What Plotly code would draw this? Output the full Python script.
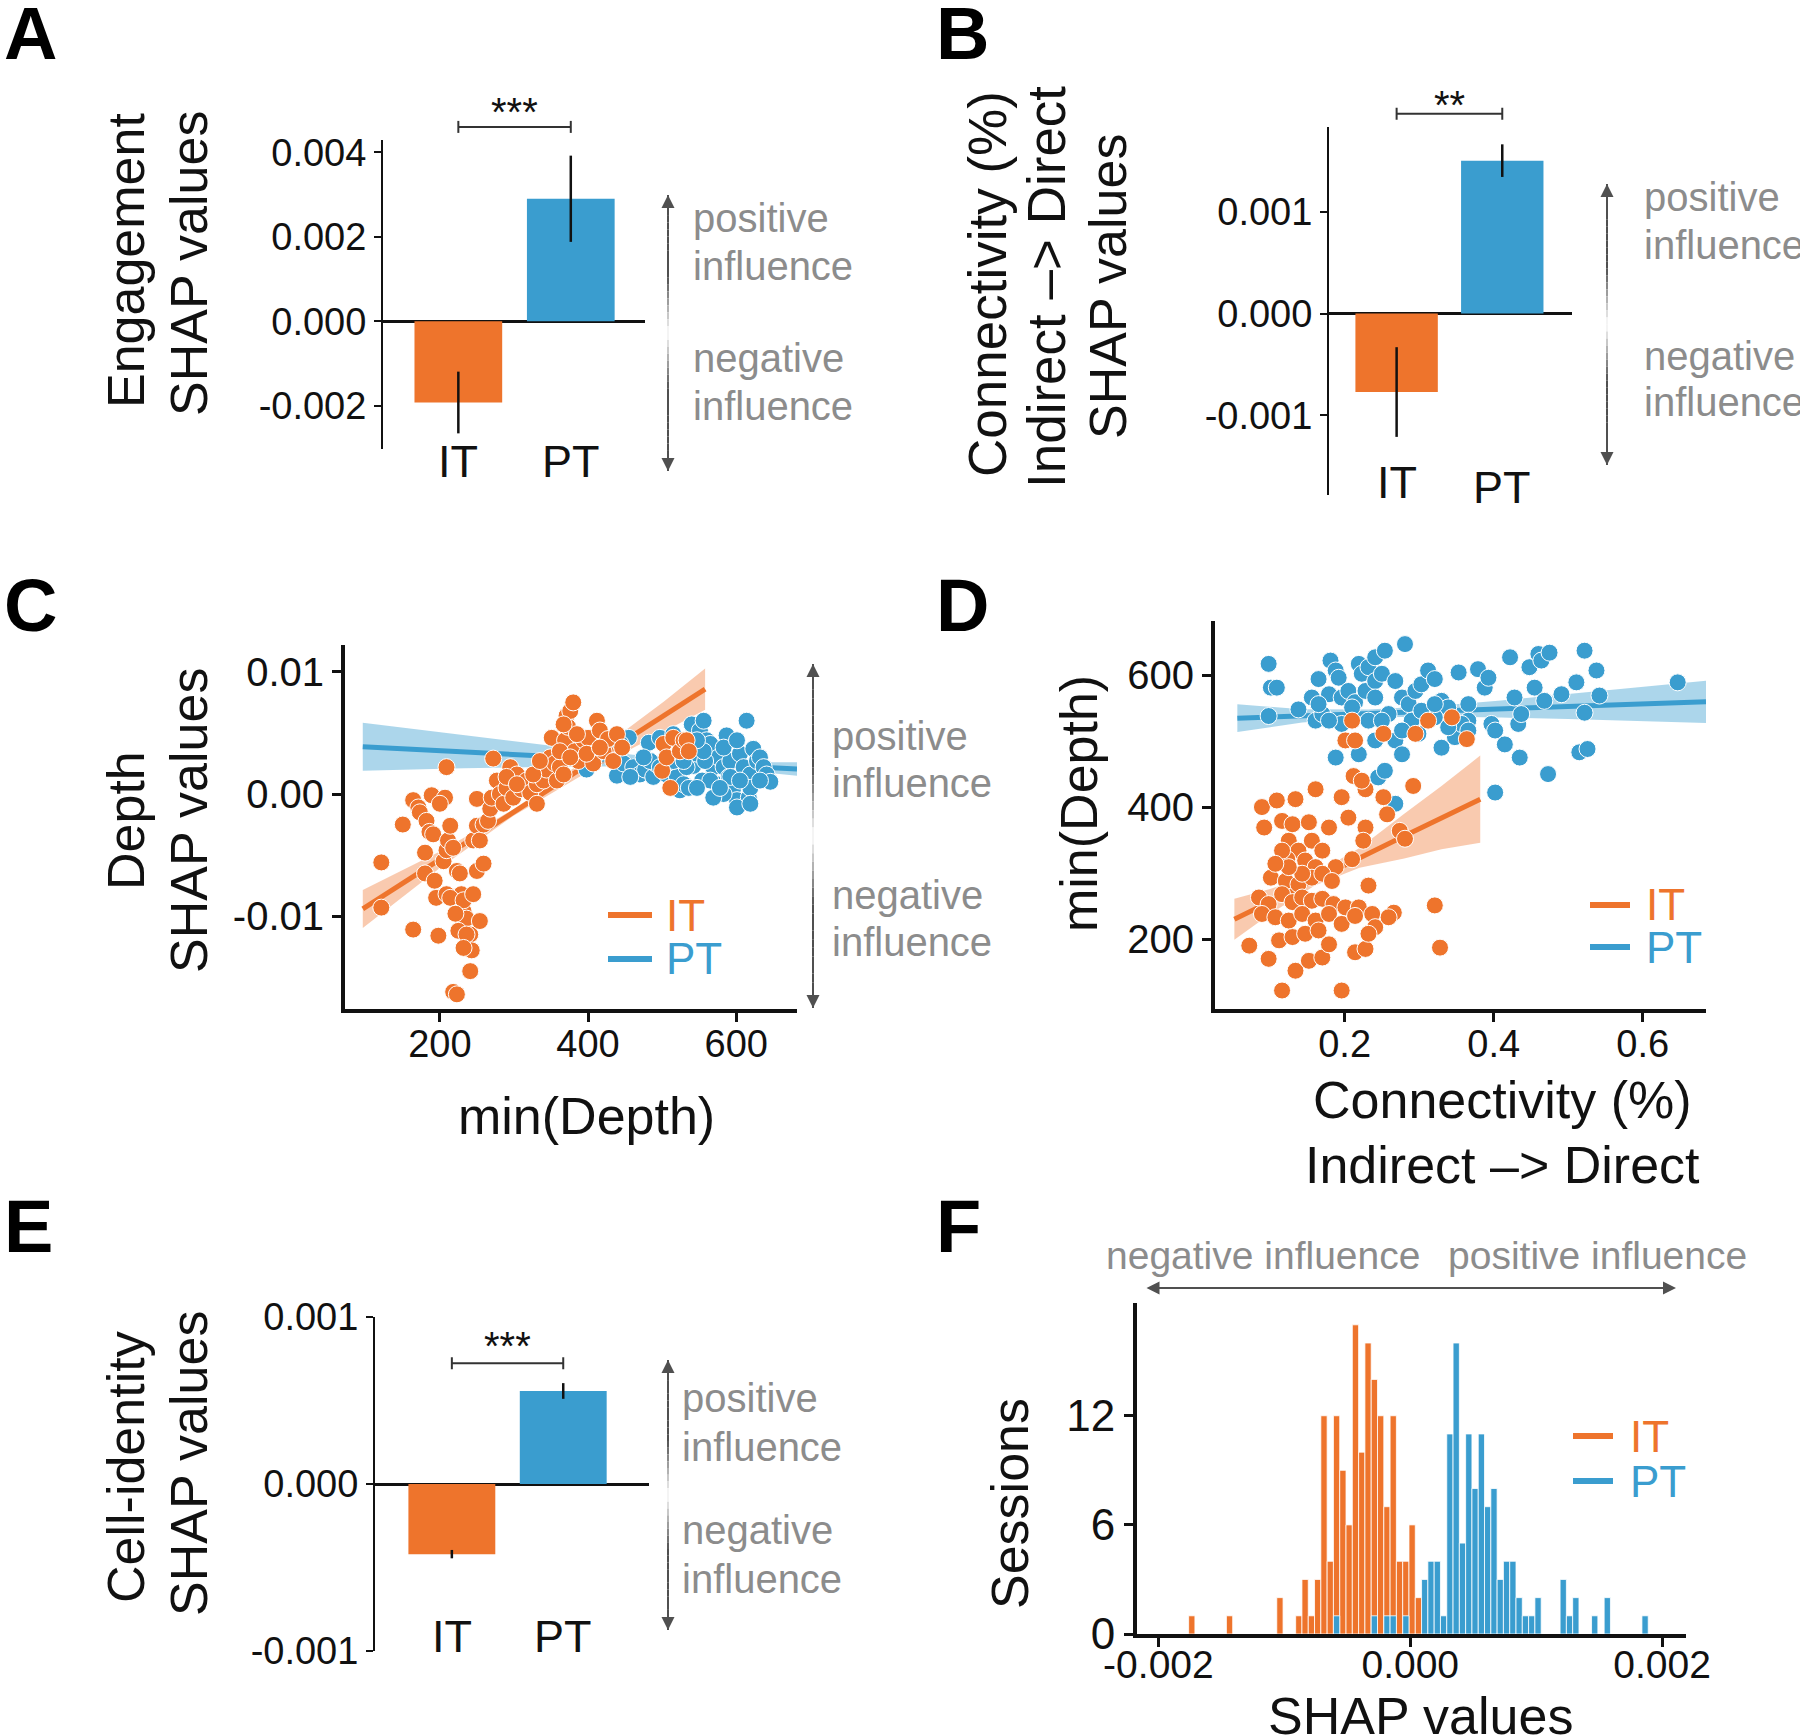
import plotly.graph_objects as go

W, H = 1800, 1736
SANS = "Liberation Sans, Arial, Helvetica, sans-serif"
INK = "#111111"
ORANGE = "#EE742C"
BLUE = "#3A9DCF"
ORANGE_BAND = "rgba(238,116,44,0.38)"
BLUE_BAND = "rgba(58,157,207,0.42)"
GREY = "#8c8c8c"

groups = ["IT", "PT"]

# ---------------- Panel A: Engagement SHAP values ----------------
engagement_mean = [-0.00192, 0.00290]
engagement_err = [0.00073, 0.00102]
engagement_ticks = [-0.002, 0.0, 0.002, 0.004]
engagement_ticktext = ["-0.002", "0.000", "0.002", "0.004"]

# ---------------- Panel B: Connectivity SHAP values ----------------
conn_mean = [-0.00077, 0.00150]
conn_err = [0.00044, 0.00016]
conn_ticks = [-0.001, 0.0, 0.001]
conn_ticktext = ["-0.001", "0.000", "0.001"]

# ---------------- Panel E: Cell-identity SHAP values ----------------
cellid_mean = [-0.00042, 0.000557]
cellid_err = [0.000025, 0.000047]
cellid_ticks = [-0.001, 0.0, 0.001]
cellid_ticktext = ["-0.001", "0.000", "0.001"]

# significance brackets (data y of bracket, data y of stars)
sig_text = {"A": "***", "B": "**", "E": "***"}
sig_bracket_y = {"A": 0.0046, "B": 0.00196, "E": 0.000723}
sig_star_y = {"A": 0.0051, "B": 0.00210, "E": 0.00086}

# ---------------- Panel C: Depth SHAP vs min(Depth) ----------------
c_it_depth = [121, 121, 164, 198, 209, 150, 164, 171, 173, 189, 207, 182, 186, 191, 180, 180, 195, 205,
              209, 211, 214, 218, 223, 227, 229, 232, 236, 225, 241, 243, 241, 218, 223, 209, 214, 232,
              245, 250, 254, 259, 245, 250, 254, 259, 250, 265, 268, 270, 272, 277, 281, 286, 290, 295,
              299, 304, 310, 317, 322, 331, 331, 340, 344, 349, 351, 355, 358, 362, 367, 369, 371, 373,
              376, 380, 382, 387, 394, 400, 407, 412, 416, 421, 427, 434, 439, 446, 502, 500, 506, 511,
              515, 524, 529, 533, 536, 290, 304, 326, 335, 362, 376, 398, 416, 385, 367, 200, 193, 221,
              236, 232]
c_it_shap = [-0.0056, -0.0093, -0.0111, -0.0116, 0.0022, -0.0025, -0.0005, -0.0011, -0.0015, -0.0001,
             -0.0003, -0.0022, -0.0031, -0.0033, -0.0048, -0.0065, -0.0085, -0.0055, -0.0046, -0.0038,
             -0.0026, -0.0044, -0.0063, -0.0065, -0.0082, -0.0096, -0.0102, -0.0112, -0.0115, -0.0128,
             -0.0145, -0.0162, -0.0164, -0.0082, -0.0085, -0.0087, -0.0082, -0.0063, -0.0104, -0.0057,
             -0.0038, -0.0026, -0.0038, -0.0025, -0.0004, -0.0022, -0.0012, -0.0003, 0.0029, 0.0011,
             0.0000, -0.0008, 0.0005, 0.0022, -0.0003, 0.0016, 0.0004, 0.0011, 0.0001, -0.0008,
             0.0008, 0.0011, 0.0020, 0.0030, 0.0046, 0.0025, 0.0011, 0.0022, 0.0016, 0.0044,
             0.0064, 0.0055, 0.0068, 0.0075, 0.0035, 0.0027, 0.0044, 0.0046, 0.0025, 0.0060,
             0.0052, 0.0035, 0.0045, 0.0027, 0.0049, 0.0038, 0.0041, 0.0019, 0.0030, 0.0005,
             0.0046, 0.0035, 0.0044, 0.0044, 0.0035, 0.0014, 0.0008, 0.0016, 0.0027, 0.0035,
             0.0030, 0.0033, 0.0038, 0.0049, 0.0057, -0.0008, -0.0071, -0.0098, -0.0115, -0.0126]
c_pt_depth = [398, 412, 439, 448, 455, 461, 470, 477, 482, 488, 491, 497, 506, 515, 520, 524, 529, 536,
              540, 542, 547, 551, 554, 556, 560, 565, 569, 574, 576, 583, 587, 590, 592, 596, 601, 605,
              610, 614, 617, 619, 623, 628, 632, 637, 641, 646, 565, 583, 547, 533, 558, 484, 475, 515,
              569, 592, 619, 632, 605, 578, 601, 619, 556, 583, 547, 601, 529, 497, 444, 457]
c_pt_shap = [0.0020, 0.0033, 0.0015, 0.0025, 0.0046, 0.0022, 0.0016, 0.0020, 0.0042, 0.0014, 0.0025,
             0.0046, 0.0016, 0.0049, 0.0014, 0.0003, 0.0008, 0.0005, 0.0057, 0.0023, 0.0033, 0.0052,
             0.0011, 0.0060, 0.0044, 0.0041, 0.0022, 0.0008, 0.0030, 0.0022, 0.0048, 0.0014, 0.0027,
             0.0005, -0.0005, 0.0033, 0.0022, 0.0060, -0.0003, 0.0016, 0.0037, 0.0027, 0.0030, 0.0022,
             0.0016, 0.0010, 0.0011, 0.0000, 0.0005, 0.0022, 0.0027, 0.0027, 0.0030, 0.0027, -0.0003,
             0.0014, 0.0005, 0.0011, 0.0011, 0.0005, -0.0011, -0.0008, 0.0035, 0.0038, 0.0044, 0.0044,
             0.0027, 0.0022, 0.0041, 0.0014]
# regression fits with 95% CI
c_it_fit_x = [96, 200, 299, 400, 502, 558]
c_it_fit_y = [-0.00941, -0.00538, -0.00153, 0.00237, 0.00633, 0.00859]
c_it_fit_ci = [0.00156, 0.00068, 0.00027, 0.00055, 0.00123, 0.00169]
c_pt_fit_x = [96, 232, 367, 502, 592, 682]
c_pt_fit_y = [0.00387, 0.00347, 0.00303, 0.00262, 0.00232, 0.00205]
c_pt_fit_ci = [0.00196, 0.00136, 0.00079, 0.00033, 0.00027, 0.00055]

# ---------------- Panel D: min(Depth) vs Connectivity ----------------
d_pt_conn = [0.098, 0.101, 0.109, 0.098, 0.138, 0.165, 0.179, 0.181, 0.188, 0.192, 0.196, 0.205, 0.214,
             0.219, 0.223, 0.228, 0.232, 0.241, 0.241, 0.250, 0.254, 0.268, 0.281, 0.277, 0.286, 0.295,
             0.303, 0.312, 0.321, 0.330, 0.339, 0.353, 0.366, 0.366, 0.379, 0.388, 0.393, 0.397, 0.402,
             0.415, 0.422, 0.428, 0.433, 0.435, 0.437, 0.448, 0.455, 0.460, 0.464, 0.468, 0.475, 0.473,
             0.491, 0.511, 0.515, 0.522, 0.526, 0.522, 0.538, 0.542, 0.647, 0.161, 0.170, 0.188, 0.210,
             0.232, 0.241, 0.245, 0.254, 0.268, 0.259, 0.268, 0.277, 0.290, 0.299, 0.321, 0.330, 0.348,
             0.357, 0.402, 0.219, 0.241, 0.250, 0.277, 0.303, 0.321, 0.339, 0.366, 0.196, 0.179, 0.156,
             0.165]
d_pt_depth = [617, 581, 581, 538, 548, 594, 571, 622, 607, 596, 566, 576, 559, 617, 602, 576, 612, 627,
              591, 602, 637, 591, 647, 566, 556, 576, 586, 607, 594, 561, 551, 604, 556, 531, 609, 581,
              596, 526, 516, 495, 627, 566, 526, 475, 541, 612, 581, 632, 622, 561, 634, 450, 571, 589,
              483, 637, 488, 543, 607, 569, 589, 531, 541, 475, 551, 531, 501, 445, 455, 405, 541, 501,
              480, 531, 511, 536, 490, 506, 526, 422, 480, 566, 531, 516, 546, 556, 521, 516, 526, 531,
              566, 556]
d_it_conn = [0.210, 0.201, 0.214, 0.252, 0.295, 0.312, 0.344, 0.364, 0.212, 0.228, 0.223, 0.161, 0.196,
             0.205, 0.252, 0.257, 0.292, 0.228, 0.225, 0.274, 0.281, 0.089, 0.109, 0.134, 0.092, 0.116,
             0.130, 0.152, 0.179, 0.125, 0.138, 0.156, 0.170, 0.123, 0.147, 0.161, 0.188, 0.210, 0.101,
             0.121, 0.138, 0.156, 0.170, 0.183, 0.085, 0.098, 0.116, 0.130, 0.143, 0.156, 0.170, 0.185,
             0.201, 0.219, 0.232, 0.089, 0.107, 0.125, 0.143, 0.161, 0.179, 0.196, 0.214, 0.237, 0.241,
             0.266, 0.259, 0.321, 0.072, 0.098, 0.116, 0.134, 0.152, 0.170, 0.179, 0.196, 0.214, 0.228,
             0.232, 0.328, 0.112, 0.130, 0.147, 0.165, 0.116, 0.143, 0.125, 0.107]
d_it_depth = [531, 501, 501, 511, 511, 531, 536, 503, 447, 427, 440, 427, 415, 384, 415, 389, 432, 369,
              349, 364, 352, 400, 410, 412, 369, 379, 374, 377, 369, 349, 334, 349, 334, 321, 319, 309,
              309, 321, 293, 288, 283, 293, 299, 288, 263, 253, 268, 256, 263, 258, 261, 253, 248, 248,
              281, 238, 233, 228, 238, 228, 238, 223, 235, 238, 218, 240, 233, 251, 190, 170, 122, 152,
              167, 172, 192, 122, 180, 185, 208, 187, 198, 203, 208, 213, 334, 299, 309, 314]
d_it_fit_x = [0.052, 0.10, 0.16, 0.22, 0.28, 0.33, 0.382]
d_it_fit_y = [230, 257, 290, 323, 356, 384, 412]
d_it_fit_ci = [31, 19, 9, 15, 34, 48, 66]
d_pt_fit_x = [0.056, 0.143, 0.232, 0.321, 0.41, 0.50, 0.59, 0.685]
d_pt_fit_y = [534.8, 538.2, 541.7, 545.2, 548.7, 552.3, 555.8, 559.6]
d_pt_fit_ci = [21, 10, 6, 8, 13, 19, 25, 32]

# ---------------- Panel F: histogram of SHAP values (sessions) ----------------
hist_first_edge = -0.00176
hist_bin_width = 0.00005
hist_it_counts = [1, 0, 0, 0, 0, 0, 1, 0, 0, 0, 0, 0, 0, 0, 2, 0, 0, 1, 3, 1, 3, 12, 4, 12, 9, 6, 17, 10,
                  16, 14, 12, 7, 12, 4, 4, 6, 2, 0, 0, 0, 0, 0, 0, 0, 0, 0, 0, 0, 0, 0, 0, 0, 0, 0, 0, 0,
                  0, 0, 0, 0, 0, 0, 0, 0, 0, 0, 0, 0, 0, 0, 0, 0, 0]
hist_pt_counts = [0, 0, 0, 0, 0, 0, 0, 0, 0, 0, 0, 0, 0, 0, 0, 0, 0, 0, 0, 0, 0, 0, 0, 1, 0, 0, 0, 0,
                  0, 1, 0, 1, 1, 0, 1, 0, 0, 3, 4, 4, 1, 11, 16, 5, 11, 8, 11, 7, 8, 3, 4, 4, 2, 1, 1, 2,
                  0, 0, 0, 3, 1, 2, 0, 0, 1, 0, 2, 0, 0, 0, 0, 0, 1]

# ---------------- layout geometry (pixels in the 1800x1736 page) ----------------
P = {
    "A": dict(n=1, xd=(383, 645), yd=(140, 449), xr=(-0.67, 1.66), yr=(-0.00302, 0.00429)),
    "B": dict(n=2, xd=(1329, 1572), yd=(127, 495), xr=(-0.64, 1.66), yr=(-0.00178, 0.00183)),
    "C": dict(n=3, xd=(345, 797), yd=(645, 1009), xr=(72, 682), yr=(-0.0176, 0.0122)),
    "D": dict(n=4, xd=(1215, 1706), yd=(621, 1009), xr=(0.026, 0.685), yr=(94, 682)),
    "E": dict(n=5, xd=(375, 649), yd=(1317, 1651), xr=(-0.69, 1.77), yr=(-0.001, 0.001)),
    "F": dict(n=6, xd=(1137, 1686), yd=(1303, 1634), xr=(-0.00217, 0.00219), yr=(0, 18.2)),
}


def ref(p, a):
    n = P[p]["n"]
    return a if n == 1 else f"{a}{n}"


def lay(p, a):
    n = P[p]["n"]
    return f"{a}axis" if n == 1 else f"{a}axis{n}"


def xpix(p, v):
    (x0, x1), (r0, r1) = P[p]["xd"], P[p]["xr"]
    return x0 + (v - r0) / (r1 - r0) * (x1 - x0)


def ypix(p, v):
    (y0, y1), (r0, r1) = P[p]["yd"], P[p]["yr"]
    return y1 - (v - r0) / (r1 - r0) * (y1 - y0)


annotations = []
shapes = []


def ann(text, x, y, size, color=INK, xanchor="center", yanchor="middle", angle=0, family=SANS):
    annotations.append(dict(text=text, x=x / W, y=1 - y / H, xref="paper", yref="paper",
                            showarrow=False, font=dict(size=size, color=color, family=family),
                            xanchor=xanchor, yanchor=yanchor, textangle=angle))


def seg(x0, y0, x1, y1, color=INK, width=2):
    shapes.append(dict(type="line", xref="paper", yref="paper", x0=x0 / W, x1=x1 / W,
                       y0=1 - y0 / H, y1=1 - y1 / H, line=dict(color=color, width=width)))


def head(x, y, dx, dy):
    annotations.append(dict(text="", x=x / W, y=1 - y / H, xref="paper", yref="paper",
                            showarrow=True, ax=dx, ay=dy, arrowhead=2, arrowsize=1.3,
                            arrowwidth=2, arrowcolor="#505050", standoff=0))


def fade_arrow(x, ytop, ybot):
    n = 40
    L = ybot - ytop
    mid = (ytop + ybot) / 2
    for i in range(n):
        a = ytop + L * i / n
        b = ytop + L * (i + 1) / n
        t = abs((a + b) / 2 - mid) / (L / 2)
        f = min(1.0, t / 0.4)
        g = int(round(255 - (255 - 80) * f))
        seg(x, a, x, b, f"rgb({g},{g},{g})", 2)
    head(x, ytop, 0, 22)
    head(x, ybot, 0, -22)


def influence_labels(x, ys):
    for txt, y in zip(["positive", "influence", "negative", "influence"], ys):
        ann(txt, x, y, 40, GREY, xanchor="left")


fig = go.Figure()

# ---------------- bar panels ----------------
bar_panels = [("A", engagement_mean, engagement_err, engagement_ticks, engagement_ticktext),
              ("B", conn_mean, conn_err, conn_ticks, conn_ticktext),
              ("E", cellid_mean, cellid_err, cellid_ticks, cellid_ticktext)]
for p, means, errs, tv, tt in bar_panels:
    fig.add_trace(go.Bar(x=[0, 1], y=means, width=0.78,
                         marker=dict(color=[ORANGE, BLUE], line=dict(width=0)),
                         error_y=dict(type="data", array=errs, color=INK, thickness=2.5, width=0),
                         xaxis=ref(p, "x"), yaxis=ref(p, "y"), showlegend=False))
    fig.update_layout(**{
        lay(p, "x"): dict(domain=[P[p]["xd"][0] / W, P[p]["xd"][1] / W], range=list(P[p]["xr"]),
                          anchor=ref(p, "y"), showline=False, showgrid=False, zeroline=False,
                          showticklabels=False, ticks=""),
        lay(p, "y"): dict(domain=[1 - P[p]["yd"][1] / H, 1 - P[p]["yd"][0] / H], range=list(P[p]["yr"]),
                          anchor=ref(p, "x"), showline=True, linecolor=INK, linewidth=2,
                          ticks="outside", ticklen=7, tickwidth=2, tickcolor=INK,
                          tickvals=tv, ticktext=tt, showgrid=False,
                          zeroline=True, zerolinecolor=INK, zerolinewidth=3,
                          tickfont=dict(size=38, family=SANS, color=INK)),
    })
    # significance bracket
    xb0, xb1 = xpix(p, 0), xpix(p, 1)
    yb = ypix(p, sig_bracket_y[p])
    seg(xb0, yb, xb1, yb, "#333333", 2)
    seg(xb0, yb - 6, xb0, yb + 6, "#333333", 2)
    seg(xb1, yb - 6, xb1, yb + 6, "#333333", 2)
    ann(sig_text[p], (xb0 + xb1) / 2, ypix(p, sig_star_y[p]) + 6, 40)

# group labels under bars
for p, yl in [("A", (461, 461)), ("B", (482, 487)), ("E", (1636, 1636))]:
    for i, g in enumerate(groups):
        ann(g, xpix(p, i), yl[i], 45)

# ---------------- scatter panels ----------------
def band_trace(p, xs, ys, ci, color):
    up = [y + c for y, c in zip(ys, ci)]
    lo = [y - c for y, c in zip(ys, ci)]
    return go.Scatter(x=xs + xs[::-1], y=up + lo[::-1], fill="toself", fillcolor=color,
                      line=dict(width=0), mode="lines", hoverinfo="skip",
                      xaxis=ref(p, "x"), yaxis=ref(p, "y"), showlegend=False)


def line_trace(p, xs, ys, color):
    return go.Scatter(x=xs, y=ys, mode="lines", line=dict(color=color, width=5),
                      xaxis=ref(p, "x"), yaxis=ref(p, "y"), showlegend=False)


def pts_trace(p, xs, ys, color):
    return go.Scatter(x=xs, y=ys, mode="markers",
                      marker=dict(size=17, color=color, line=dict(color="white", width=1)),
                      xaxis=ref(p, "x"), yaxis=ref(p, "y"), showlegend=False)


fig.add_trace(band_trace("C", c_pt_fit_x, c_pt_fit_y, c_pt_fit_ci, BLUE_BAND))
fig.add_trace(band_trace("C", c_it_fit_x, c_it_fit_y, c_it_fit_ci, ORANGE_BAND))
fig.add_trace(line_trace("C", c_pt_fit_x, c_pt_fit_y, BLUE))
fig.add_trace(line_trace("C", c_it_fit_x, c_it_fit_y, ORANGE))
fig.add_trace(pts_trace("C", c_pt_depth, c_pt_shap, BLUE))
fig.add_trace(pts_trace("C", c_it_depth, c_it_shap, ORANGE))

fig.add_trace(band_trace("D", d_pt_fit_x, d_pt_fit_y, d_pt_fit_ci, BLUE_BAND))
fig.add_trace(band_trace("D", d_it_fit_x, d_it_fit_y, d_it_fit_ci, ORANGE_BAND))
fig.add_trace(line_trace("D", d_pt_fit_x, d_pt_fit_y, BLUE))
fig.add_trace(line_trace("D", d_it_fit_x, d_it_fit_y, ORANGE))
fig.add_trace(pts_trace("D", d_pt_conn, d_pt_depth, BLUE))
fig.add_trace(pts_trace("D", d_it_conn, d_it_depth, ORANGE))

# ---------------- histogram panel ----------------
for counts, color in [(hist_it_counts, ORANGE), (hist_pt_counts, BLUE)]:
    xs = [hist_first_edge + (k + 0.5) * hist_bin_width for k, c in enumerate(counts) if c > 0]
    ys = [c for c in counts if c > 0]
    fig.add_trace(go.Bar(x=xs, y=ys, width=hist_bin_width,
                         marker=dict(color=color, line=dict(color="white", width=0.8)),
                         xaxis=ref("F", "x"), yaxis=ref("F", "y"), showlegend=False))


def heavy_axes(p, xt, xtt, yt, ytt, xfont=38, yfont=40, xstand=-11):
    fig.update_layout(**{
        lay(p, "x"): dict(domain=[P[p]["xd"][0] / W, P[p]["xd"][1] / W], range=list(P[p]["xr"]),
                          anchor=ref(p, "y"), showline=True, linecolor=INK, linewidth=4,
                          ticks="outside", ticklen=9, tickwidth=3, tickcolor=INK,
                          tickvals=xt, ticktext=xtt, showgrid=False, zeroline=False,
                          ticklabelstandoff=xstand,
                          tickfont=dict(size=xfont, family=SANS, color=INK)),
        lay(p, "y"): dict(domain=[1 - P[p]["yd"][1] / H, 1 - P[p]["yd"][0] / H], range=list(P[p]["yr"]),
                          anchor=ref(p, "x"), showline=True, linecolor=INK, linewidth=4,
                          ticks="outside", ticklen=9, tickwidth=3, tickcolor=INK,
                          tickvals=yt, ticktext=ytt, showgrid=False, zeroline=False,
                          tickfont=dict(size=yfont, family=SANS, color=INK)),
    })


heavy_axes("C", [200, 400, 600], ["200", "400", "600"], [-0.01, 0, 0.01], ["-0.01", "0.00", "0.01"])
heavy_axes("D", [0.2, 0.4, 0.6], ["0.2", "0.4", "0.6"], [200, 400, 600], ["200", "400", "600"])
heavy_axes("F", [-0.002, 0, 0.002], ["-0.002", "0.000", "0.002"], [0, 6, 12], ["0", "6", "12"],
           xfont=39, yfont=44, xstand=-16)

# ---------------- text: panel letters ----------------
for letter, x, y in [("A", 2, 33), ("B", 934, 33), ("C", 2, 605), ("D", 934, 605), ("E", 2, 1226), ("F", 934, 1226)]:
    ann(f"<b>{letter}</b>", x, y, 74, "#000000", xanchor="left")

# axis titles
TS = 52
ann("Engagement", 126, 261, TS, angle=-90)
ann("SHAP values", 189, 264, TS, angle=-90)
ann("Connectivity (%)", 987, 284, 53, angle=-90)
ann("Indirect \u2013> Direct", 1047, 287, 53, angle=-90)
ann("SHAP values", 1108, 287, TS, angle=-90)
ann("Depth", 126, 821, TS, angle=-90)
ann("SHAP values", 189, 821, TS, angle=-90)
ann("min(Depth)", 586, 1116, TS)
ann("min(Depth)", 1079, 804, TS, angle=-90)
ann("Connectivity (%)", 1502, 1100, TS)
ann("Indirect \u2013> Direct", 1502, 1165, TS)
ann("Cell-identity", 126, 1467, TS, angle=-90)
ann("SHAP values", 189, 1464, TS, angle=-90)
ann("Sessions", 1010, 1504, TS, angle=-90)
ann("SHAP values", 1420, 1716, TS)

# influence arrows + labels
fade_arrow(668, 195, 471)
influence_labels(691, [218, 266, 358, 406])
fade_arrow(1607, 184, 465)
influence_labels(1642, [197, 245, 356, 402])
fade_arrow(813, 664, 1008)
influence_labels(830, [736, 783, 895, 942])
fade_arrow(668, 1360, 1630)
influence_labels(680, [1398, 1447, 1530, 1579])

# panel F top arrow and labels
annotations.append(dict(text="", x=1676 / W, y=1 - 1288 / H, xref="paper", yref="paper",
                        showarrow=True, ax=-(1676 - 1145), ay=0, arrowhead=2, arrowside="end+start",
                        arrowsize=1.3, arrowwidth=2, arrowcolor="#505050", standoff=0, startstandoff=0,
                        startarrowhead=2, startarrowsize=1.3))
ann("negative influence", 1263, 1255, 39, GREY)
ann("positive influence", 1597, 1255, 39, GREY)

# manual legends
for (lx0, lx1, tx, y_it, y_pt) in [(608, 652, 664, 915, 959), (1590, 1630, 1644, 905, 947),
                                   (1573, 1613, 1628, 1436, 1481)]:
    seg(lx0, y_it, lx1, y_it, ORANGE, 6)
    seg(lx0, y_pt, lx1, y_pt, BLUE, 6)
    ann(groups[0], tx, y_it, 44, ORANGE, xanchor="left")
    ann(groups[1], tx, y_pt, 44, BLUE, xanchor="left")

fig.update_layout(width=W, height=H, margin=dict(l=0, r=0, t=0, b=0, pad=0, autoexpand=False),
                  paper_bgcolor="white", plot_bgcolor="white", barmode="overlay",
                  annotations=annotations, shapes=shapes, font=dict(family=SANS, color=INK))

fig.write_html("out.html", config={"displayModeBar": False},
               post_script="document.body.style.margin='0px';document.body.style.padding='0px';")
